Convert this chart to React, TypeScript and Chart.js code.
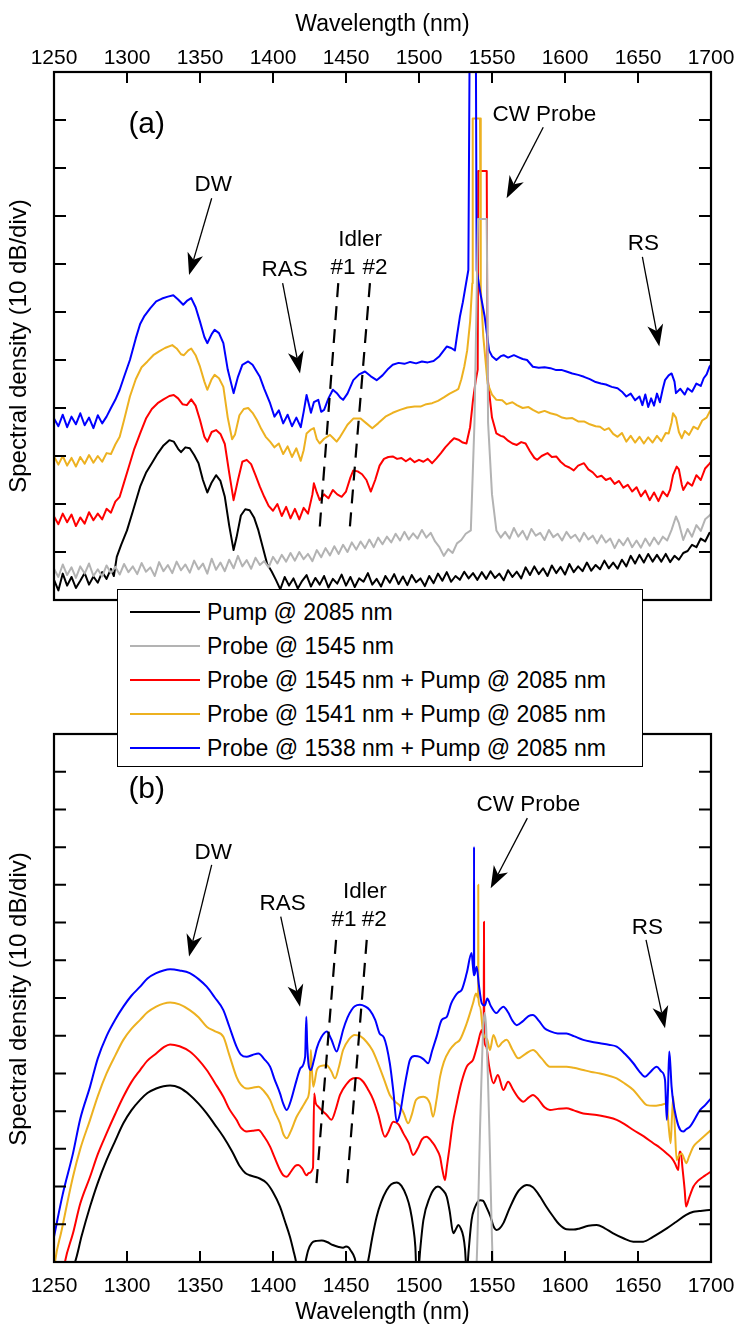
import React, { useEffect, useRef } from "react";
import { Chart, registerables } from "chart.js";

Chart.register(...registerables);

const FONT = "'Liberation Sans', Arial, Helvetica, sans-serif";

// ---------- axes / legend ----------
const X_TICKS = [1250, 1300, 1350, 1400, 1450, 1500, 1550, 1600, 1650, 1700];
const Y_STEP = 10; // 10 dB per division
const A_Y_MAX = 110;
const B_Y_MAX = 140;
const X_TITLE = "Wavelength (nm)";
const Y_TITLE = "Spectral density (10 dB/div)";

const SERIES_LABELS = [
  "Pump @ 2085 nm",
  "Probe @ 1545 nm",
  "Probe @ 1545 nm + Pump @ 2085 nm",
  "Probe @ 1541 nm + Pump @ 2085 nm",
  "Probe @ 1538 nm + Pump @ 2085 nm",
];
const SERIES_COLORS = ["#000000", "#B3B3B3", "#FF0000", "#EDB120", "#0000FF"];
const DRAW_ORDER = [4, 0, 3, 2, 1];

// ---------- panel (a): measured spectra [wavelength nm, level in dB units] ----------
const A_PUMP: [number, number][] = [
  [1250,4.2],[1253,2.0],[1256,5.5],[1259,3.0],[1262,4.8],[1265,2.5],[1268,4.0],[1271,5.6],[1274,3.2],[1277,4.9],
  [1280,3.6],[1283,5.8],[1286,4.4],[1289,6.5],[1291,5.0],[1293,9.0],[1296,11.5],[1300,14.5],[1304,18.5],[1309,23.6],
  [1313,26.5],[1317,28.5],[1321,30.5],[1325,32.2],[1329,33.3],[1332,33.0],[1335,31.5],[1337,30.8],[1340,31.8],[1343,31.6],
  [1346,30.2],[1349,28.5],[1352,25.0],[1355,22.4],[1358,24.5],[1361,26.0],[1364,24.8],[1367,21.5],[1370,15.5],[1373,10.4],
  [1375,13.0],[1378,17.6],[1381,18.9],[1384,18.7],[1387,17.2],[1390,14.5],[1393,11.0],[1396,7.5],[1399,6.0],
  [1402,4.2],[1405,2.2],[1408,4.8],[1411,3.0],[1414,4.5],[1417,2.4],[1420,4.0],[1423,5.2],[1426,2.8],[1429,4.6],
  [1432,3.2],[1435,5.0],[1438,2.6],[1441,4.4],[1444,3.4],[1447,5.3],[1450,3.0],[1453,4.8],[1456,2.7],[1459,4.5],
  [1462,3.8],[1465,5.6],[1468,3.2],[1471,4.4],[1474,2.8],[1477,5.0],[1480,3.6],[1483,5.4],[1486,3.3],[1489,4.9],
  [1492,3.1],[1495,5.2],[1498,3.7],[1501,4.5],[1504,2.9],[1507,5.0],[1510,3.5],[1513,5.5],[1516,4.0],[1519,5.8],
  [1522,3.8],[1525,5.0],[1528,4.2],[1531,5.9],[1534,4.5],[1537,5.6],[1540,4.2],[1543,5.8],[1546,4.4],[1549,6.0],
  [1552,4.6],[1555,5.5],[1558,4.1],[1561,6.2],[1564,4.8],[1567,5.9],[1570,4.5],[1573,6.8],[1576,5.2],[1579,7.0],
  [1582,5.4],[1585,6.6],[1588,5.0],[1591,7.2],[1594,5.6],[1597,6.9],[1600,5.3],[1603,7.5],[1606,5.8],[1609,7.0],
  [1612,6.0],[1615,7.8],[1618,6.1],[1621,7.3],[1624,6.4],[1627,8.2],[1630,6.6],[1633,7.8],[1636,6.5],[1639,8.4],
  [1642,7.0],[1645,9.2],[1648,7.6],[1651,9.4],[1654,7.8],[1657,9.6],[1660,8.0],[1663,9.4],[1666,8.0],[1669,9.6],
  [1672,7.9],[1675,9.2],[1678,8.4],[1681,9.8],[1684,10.2],[1687,11.5],[1690,11.0],[1693,12.8],[1696,12.2],[1699,14.0],
  [1700,13.8],
];

const A_PROBE: [number, number][] = [
  [1250,6.5],[1253,4.8],[1256,7.4],[1259,5.2],[1262,6.8],[1265,4.6],[1268,7.0],[1271,5.5],[1274,7.6],[1277,5.0],
  [1280,6.4],[1283,4.9],[1286,7.2],[1289,5.6],[1292,6.9],[1295,5.3],[1298,7.5],[1301,5.8],[1304,7.0],[1307,5.4],
  [1310,7.7],[1313,5.9],[1316,6.8],[1319,5.0],[1322,7.9],[1325,6.0],[1328,7.3],[1331,5.6],[1334,8.0],[1337,6.2],
  [1340,7.4],[1343,5.7],[1346,8.2],[1349,6.4],[1352,7.6],[1355,5.5],[1358,8.6],[1361,6.3],[1364,7.8],[1367,6.0],
  [1370,8.4],[1373,6.6],[1376,9.2],[1379,7.0],[1382,8.3],[1385,6.5],[1388,8.8],[1391,7.3],[1394,8.1],[1397,6.8],
  [1400,9.0],[1403,7.6],[1406,9.4],[1409,8.0],[1412,9.8],[1415,8.2],[1418,10.0],[1421,8.5],[1424,9.6],[1427,8.1],
  [1430,10.4],[1433,8.9],[1436,10.8],[1439,9.3],[1442,11.2],[1445,9.6],[1448,11.5],[1451,10.0],[1454,12.0],[1457,10.5],
  [1460,12.2],[1463,10.8],[1466,12.6],[1469,11.0],[1472,13.0],[1475,11.6],[1478,13.2],[1481,12.0],[1484,13.8],[1487,12.4],
  [1490,14.2],[1493,12.6],[1496,13.9],[1499,12.8],[1502,14.6],[1505,13.0],[1508,14.0],[1511,12.2],[1514,11.0],[1517,9.2],
  [1520,10.6],[1523,9.8],[1526,11.8],[1529,12.5],[1532,13.8],[1535.5,14.5],[1538,37.0],[1540.4,79.4],[1546.4,79.4],[1547.3,37.0],
  [1550,22.0],[1553,14.5],[1556,13.0],[1559,14.2],[1562,12.8],[1565,15.0],[1568,13.2],[1571,14.4],[1574,12.6],[1577,14.8],
  [1580,13.4],[1583,14.0],[1586,12.5],[1589,14.6],[1592,13.1],[1595,13.8],[1598,12.4],[1601,14.2],[1604,12.9],[1607,13.6],
  [1610,12.2],[1613,14.0],[1616,12.6],[1619,13.4],[1622,11.8],[1625,13.5],[1628,12.0],[1631,12.8],[1634,10.8],[1637,12.6],
  [1640,11.4],[1643,12.9],[1646,11.0],[1649,12.4],[1652,10.9],[1655,12.8],[1658,11.3],[1661,13.0],[1664,11.6],[1667,13.2],
  [1670,12.4],[1673,14.6],[1676,17.4],[1678,16.0],[1681,12.5],[1684,14.8],[1687,13.2],[1690,15.6],[1693,14.4],[1696,16.8],
  [1699,17.6],[1700,18.0],
];

const A_MIX1545: [number, number][] = [
  [1250,17.4],[1253,15.8],[1256,18.0],[1259,16.2],[1262,17.8],[1265,15.4],[1268,17.2],[1271,15.9],[1274,18.3],[1277,16.6],
  [1280,18.0],[1283,16.8],[1286,19.0],[1289,18.2],[1292,20.5],[1295,21.5],[1298,24.5],[1301,27.5],[1305,31.5],[1309,34.7],
  [1313,37.8],[1317,39.8],[1321,41.0],[1325,41.8],[1329,42.5],[1332,42.7],[1335,42.0],[1338,40.8],[1341,40.6],[1344,41.8],
  [1347,40.5],[1350,37.5],[1353,34.0],[1355,33.0],[1358,35.0],[1361,35.4],[1364,34.6],[1367,32.5],[1370,26.5],[1373,20.8],
  [1376,25.0],[1379,28.8],[1382,29.2],[1385,28.3],[1388,26.0],[1391,23.6],[1394,21.5],[1397,19.6],[1400,18.6],[1403,20.0],
  [1406,17.5],[1409,19.4],[1412,17.0],[1415,19.0],[1418,16.8],[1421,19.2],[1424,18.0],[1427,22.0],[1428,24.3],[1430,22.4],
  [1432,20.8],[1435,22.0],[1438,21.2],[1441,22.9],[1444,22.0],[1447,21.5],[1450,22.6],[1453,25.5],[1455,27.0],[1458,26.8],
  [1461,26.2],[1464,25.0],[1467,22.6],[1470,25.0],[1473,28.0],[1476,29.4],[1479,29.8],[1482,29.9],[1485,29.4],[1488,29.6],
  [1491,28.9],[1494,29.5],[1497,28.7],[1500,29.2],[1503,28.8],[1506,29.4],[1509,28.5],[1512,29.5],[1515,30.6],[1518,31.8],
  [1521,32.8],[1524,33.7],[1527,33.4],[1530,32.8],[1532.5,32.6],[1535,36.0],[1537,41.7],[1539,46.0],[1540.2,48.0],[1540.6,89.4],
  [1546.4,89.4],[1546.9,46.5],[1550,38.0],[1553,34.7],[1556,34.2],[1558,34.0],[1561,33.2],[1564,32.6],[1567,32.3],[1570,32.9],
  [1573,32.6],[1576,31.0],[1579,29.6],[1581,29.2],[1584,30.0],[1588,30.6],[1591,29.8],[1594,29.9],[1597,28.8],[1600,28.0],
  [1603,27.6],[1606,27.0],[1609,28.0],[1613,28.5],[1616,27.2],[1619,26.6],[1622,25.6],[1625,25.9],[1628,25.0],[1631,25.4],
  [1634,24.2],[1637,24.8],[1640,23.4],[1643,24.0],[1646,22.6],[1649,23.5],[1652,21.6],[1655,22.8],[1658,20.8],[1661,22.4],
  [1664,20.6],[1667,22.6],[1670,21.6],[1672,23.0],[1674,26.0],[1676.5,27.8],[1678,27.2],[1680,24.0],[1681,22.9],[1684,24.5],
  [1687,23.8],[1690,26.0],[1693,25.0],[1696,27.4],[1699,28.4],[1700,28.8],
];

const A_MIX1541: [number, number][] = [
  [1250,29.9],[1253,28.2],[1256,30.0],[1259,28.0],[1262,29.6],[1265,27.8],[1268,29.8],[1271,28.4],[1274,30.2],[1277,28.6],
  [1280,30.0],[1283,28.8],[1286,30.6],[1289,30.4],[1292,32.4],[1295,34.0],[1298,37.5],[1302,42.4],[1306,46.0],[1310,48.5],
  [1314,49.7],[1318,51.0],[1322,51.8],[1326,52.5],[1331,53.1],[1334,52.4],[1337,51.2],[1339,51.0],[1342,52.0],[1344,52.4],
  [1347,51.0],[1350,48.6],[1353,45.5],[1355,43.8],[1358,46.0],[1360,46.9],[1363,46.2],[1366,44.4],[1369,38.0],[1372,33.5],
  [1374,34.5],[1377,38.5],[1380,39.8],[1383,40.0],[1386,39.0],[1389,37.5],[1392,35.6],[1395,34.0],[1398,33.0],[1401,31.8],
  [1404,32.6],[1407,30.4],[1410,32.0],[1413,29.8],[1416,31.6],[1419,29.0],[1421,31.2],[1423,34.7],[1426,35.5],[1428,35.8],
  [1430,33.5],[1432,32.6],[1435,33.6],[1439,34.4],[1441,33.8],[1443.6,33.0],[1446,34.0],[1448,35.0],[1451,36.5],[1455,37.8],
  [1460,37.8],[1464,36.8],[1468,35.8],[1472,36.8],[1477,38.2],[1482,39.0],[1487,39.6],[1492,40.1],[1497,40.3],[1501,40.3],
  [1505,40.8],[1509,41.0],[1513,41.5],[1517,42.2],[1521,43.0],[1525,43.6],[1527,44.0],[1529,46.0],[1531,48.6],[1533,52.0],
  [1535,58.0],[1536.5,66.0],[1536.8,100.3],[1541.8,100.3],[1542.3,65.0],[1544,55.0],[1547,45.1],[1550,42.8],[1553,41.7],[1557,41.6],
  [1560,40.8],[1564,41.2],[1567,40.6],[1571,40.0],[1575,40.2],[1578,39.6],[1582,39.0],[1586,39.4],[1590,38.9],[1594,38.6],
  [1598,38.0],[1601,37.8],[1605,37.9],[1609,37.2],[1613,37.2],[1617,36.6],[1621,36.2],[1624,36.1],[1627,35.4],[1630,35.8],
  [1633,34.6],[1636,34.0],[1639,34.8],[1642,33.0],[1645,34.2],[1648,32.8],[1651,34.0],[1654,32.6],[1657,33.9],[1660,32.8],
  [1663,34.2],[1666,33.1],[1669,34.8],[1671,34.7],[1673,37.0],[1674,38.9],[1676,38.0],[1678,35.0],[1680,33.7],[1682,35.2],
  [1685,34.4],[1688,36.1],[1691,35.6],[1694,37.4],[1697,38.0],[1699,39.2],[1700,39.6],
];

const A_MIX1538: [number, number][] = [
  [1250,37.8],[1253,36.2],[1256,38.6],[1259,36.0],[1262,38.2],[1265,36.6],[1268,38.9],[1271,36.4],[1274,38.0],[1277,35.8],
  [1280,38.5],[1283,36.8],[1286,38.2],[1289,40.0],[1292,41.7],[1295,43.8],[1298,46.5],[1302,50.0],[1306,54.5],[1309,57.5],
  [1312,59.2],[1316,60.8],[1320,62.2],[1324,62.8],[1328,63.2],[1331.7,63.5],[1335,62.6],[1338.5,61.5],[1341,62.3],[1344,62.9],
  [1347,61.0],[1350,58.0],[1353,54.8],[1355,53.5],[1358,55.4],[1360,56.3],[1363,55.6],[1366,53.5],[1369,48.0],[1373,43.1],
  [1376,46.5],[1379,49.0],[1383,49.7],[1386,49.0],[1389,47.5],[1391,46.5],[1394,44.0],[1398,41.0],[1401,38.2],[1404,39.5],
  [1407,36.8],[1410,38.6],[1413,36.2],[1416,38.0],[1419,36.0],[1421,39.2],[1423,42.7],[1426,39.0],[1428,41.2],[1431,41.7],
  [1433,39.2],[1435,39.6],[1438,42.0],[1441,43.8],[1444,43.0],[1446,42.2],[1448,41.7],[1451,43.0],[1455,45.8],[1459,47.0],
  [1463,47.6],[1467,46.6],[1471,45.8],[1475,46.8],[1479,48.2],[1482,49.0],[1486,49.4],[1490,49.2],[1494,49.6],[1498,49.3],
  [1502,49.7],[1506,49.5],[1510,49.8],[1514,50.8],[1517,52.0],[1519,52.8],[1522,52.5],[1524.6,52.0],[1526,55.0],[1528,59.0],
  [1530,62.0],[1533.8,68.75],[1534.6,111],[1539,111],[1539.5,68.75],[1542,64.0],[1545,59.0],[1548,52.0],[1550,50.8],[1553,50.0],
  [1556,50.8],[1558,51.0],[1561,50.5],[1565,51.0],[1568,50.6],[1571,50.2],[1574,50.0],[1578,48.6],[1582,48.4],[1586,48.5],
  [1590,48.3],[1594,47.9],[1598,47.9],[1601,47.6],[1605,47.2],[1609,46.9],[1613,46.5],[1617,46.0],[1621,45.4],[1624.6,45.1],
  [1628,44.9],[1632,44.4],[1636,44.1],[1639,43.4],[1642,42.4],[1645,43.0],[1648,41.6],[1651,42.4],[1653,40.6],[1655,42.8],
  [1657,40.2],[1659,42.0],[1661,40.5],[1663,43.0],[1665,41.2],[1667,44.0],[1668.5,45.8],[1671,46.8],[1673,47.2],[1675,45.5],
  [1676,43.1],[1679,44.0],[1682,42.8],[1684,44.1],[1687,43.4],[1690,45.1],[1693,44.6],[1695,46.2],[1697,47.0],[1699,48.6],
  [1700,49.0],
];

// ---------- panel (b): simulated spectra ----------
const B_PUMP: [number, number][] = [
  [1250,-10],[1257,-4],[1264.4,0],[1269,7],[1274.7,14.7],[1280,21],[1286,27],[1292,32.2],[1297.5,36.8],[1303,40.2],
  [1309,43],[1314,44.8],[1320,46],[1325,46.6],[1329.5,46.8],[1336,46.2],[1343,44.3],[1349,42],[1354.6,39.4],[1360,36.5],
  [1366,33.2],[1372,29.3],[1377.4,25.3],[1381,23.6],[1384,23],[1390,22.3],[1395.7,20.9],[1400,18.5],[1404.8,14.7],[1408,11],
  [1411.6,6.7],[1414,3],[1415.8,0],[1417,-3],[1419,-4],[1421,-2],[1422.5,0.5],[1424,3],[1426.5,5],[1430,5.6],
  [1433.4,5.7],[1437,5.3],[1441,4.5],[1445,4.0],[1448,3.8],[1450,4.1],[1451.6,3.9],[1453,3.2],[1456,1],[1458,-3],
  [1462,-4],[1465,0],[1468,6.5],[1471,12],[1474,15.8],[1477.8,19],[1481,20.6],[1484.7,21.1],[1488,20.2],[1491.6,17.3],
  [1494,14],[1496,9.4],[1497.5,4],[1498.5,-5],[1499.5,-3],[1501,4],[1503,11.1],[1507.5,17.3],[1510,19.2],[1513,20],
  [1516,19.2],[1519,17.3],[1521,13.5],[1523.5,7.6],[1525,8.5],[1527,9.8],[1528.5,9.0],[1530.4,6.7],[1531.5,3.5],[1532.7,-3],
  [1534,3],[1536,11.1],[1538,14.2],[1541.8,16.4],[1544,16.2],[1546,14.7],[1549,12],[1551,9.5],[1553,8.5],[1555,8.8],
  [1557.8,10.3],[1562,14.2],[1567,18.2],[1570,19.6],[1573.8,20.4],[1578,19.8],[1583,17.3],[1587,14.8],[1592,12],[1596,10.0],
  [1601,8.7],[1606,8.6],[1610,8.9],[1616,9.6],[1621.7,9.8],[1627,9.0],[1633,7.6],[1640,6.3],[1646.8,5.4],[1653.6,5.4],
  [1660,6.6],[1666,8.0],[1669.7,8.9],[1676,10.6],[1683,12.5],[1688,13.3],[1692,13.5],[1699,13.8],[1700,13.8],
];

const B_PROBE: [number, number][] = [
  [1250,-30],[1530,-30],[1539.5,0],[1542,38],[1544,62],[1545,66],[1546,62],[1548,38],[1550.5,0],[1560,-30],[1700,-30],
];

const B_MIX1545: [number, number][] = [
  [1250,-20],[1257.5,0],[1263,7.6],[1268,15.5],[1274.7,22.6],[1280,28.6],[1286,34.1],[1292,39.3],[1297.5,43.8],[1303,47.7],
  [1309,50.9],[1314,53.4],[1320,55.3],[1325,56.9],[1329.5,57.7],[1336,57.2],[1343,55.8],[1349,53.6],[1354.6,50.9],[1360,47.6],
  [1366,43.8],[1370,40.6],[1375,37.7],[1378,35.6],[1382,34.6],[1386,34.8],[1390,35],[1394,33.2],[1398,30.6],[1401,27.8],
  [1404.8,24.4],[1407,23],[1409.4,22.6],[1412,23.8],[1415,25.4],[1417.3,25.7],[1420,24.8],[1423,23],[1424.5,23.6],[1427.4,25],
  [1428.2,44.7],[1429.2,42.2],[1431,41.2],[1434,40.0],[1436.8,39],[1440,37.7],[1443,40.5],[1445.9,44.3],[1450,47],[1455,48.7],
  [1458,48.8],[1461.8,47.8],[1465,45.8],[1468.7,43],[1472,39.2],[1476.7,33.2],[1479,34.5],[1482.4,37.2],[1486,36.5],[1489.3,34.1],
  [1493,31.5],[1496,28.4],[1499,30.0],[1502,32.5],[1505,33.2],[1509.6,31.5],[1512,30.0],[1514.4,27.9],[1516,24.5],[1517.8,21.7],
  [1519,25],[1521,30.6],[1523,36.5],[1525.8,42],[1529,47.5],[1532.7,51.8],[1535,52.8],[1537,53.6],[1540,57.5],[1543,61.5],
  [1544.3,59],[1544.5,90.2],[1544.7,59],[1546,57.1],[1548,52],[1551,47.4],[1554,49.6],[1557.8,45.6],[1561,47.8],[1564.6,45.6],
  [1568,43.6],[1571.5,42.5],[1575,43.6],[1578,44.3],[1582,43.0],[1586,41.0],[1589.7,40.3],[1595,40.6],[1601,40.8],[1606,40.2],
  [1612.5,39.4],[1617,39.2],[1621.7,39],[1628,38.5],[1635.4,37.7],[1641,36.5],[1646.8,35],[1654,33.3],[1660.5,31.5],[1665,30.3],
  [1669.7,28.8],[1673,27.6],[1675.3,26.2],[1677.6,24.4],[1678.4,29.2],[1679.2,29.2],[1680.6,24.4],[1682,19],[1682.9,14.7],[1685,17],
  [1688,20],[1691,21.5],[1694.7,22.6],[1697,23.2],[1700,24],
];

const B_MIX1541: [number, number][] = [
  [1250,-3],[1250.7,0],[1255,8],[1263,22.6],[1268,30],[1274.7,37.7],[1280,44],[1286,50],[1292,54.8],[1297.5,58.9],
  [1303,61.8],[1309,64.2],[1314,66.2],[1320,67.7],[1325,68.5],[1329.5,68.8],[1336,68.3],[1343,66.8],[1349,64.9],[1354.6,62.4],
  [1360,61.2],[1366,59.7],[1370,55.0],[1375,49.1],[1378,47.0],[1382,46],[1386,46.2],[1390,46.5],[1394,45.2],[1398,43],
  [1401,40.0],[1404.8,36.8],[1407,34.0],[1409.4,32.8],[1412,34.5],[1416.2,38.5],[1420,41.0],[1423,43],[1425,46],[1425.9,56.2],
  [1426.8,50],[1427.6,46.5],[1430,50.9],[1433,52.0],[1436.8,52.2],[1440,50.5],[1442.5,48.7],[1445,51.5],[1448,56.2],[1452,59],
  [1456,60.2],[1460,59.8],[1464,58.4],[1468,56.2],[1471,53.6],[1476,48.5],[1480,44.3],[1484,42.4],[1487,41.4],[1489.5,39.5],
  [1492.6,36.8],[1495,39.0],[1498,43],[1503,43.8],[1507.5,42],[1509.6,38.5],[1512,43],[1514.4,49.1],[1517,53],[1521,56.2],
  [1525,58],[1528,58.9],[1532.7,63.3],[1537,68.6],[1539,71.2],[1540.5,70],[1540.6,100],[1540.7,70],[1541.8,67.7],[1544,60.6],
  [1546.8,58.9],[1548.6,56.2],[1551,60.2],[1554.3,57.1],[1557,58.2],[1560,58.9],[1564,56.3],[1568,54],[1573,55.2],[1578,56.2],
  [1584,54],[1589.7,51.8],[1595,51.8],[1601,51.8],[1606,51.5],[1612.5,50.9],[1618,50.4],[1624,50],[1630,49.4],[1635.4,48.7],
  [1641,47.3],[1646.8,45.6],[1652,43.2],[1656,41.6],[1661,41.4],[1665,41.6],[1669.7,42],[1671,36],[1672.4,31.5],[1673.2,38],
  [1674.2,43.8],[1675.3,35],[1676.5,27],[1678,28.2],[1680,28.8],[1681.5,27.5],[1683,26.2],[1685,28.0],[1688,30.6],[1692,32.2],
  [1696,33.6],[1700,35],
];

const B_MIX1538: [number, number][] = [
  [1250,6.7],[1256,18],[1263,28.8],[1268,38],[1274.7,46.5],[1280,54],[1286,59.9],[1292,64.3],[1297.5,67.7],[1303,70.6],
  [1309,73],[1314,75.2],[1320,76.6],[1325,77.3],[1329.5,77.6],[1336,77.3],[1343,76.6],[1349,75],[1354.6,73],[1360,70.2],
  [1366,66.8],[1370,62.5],[1375,57.1],[1378,55.0],[1382,54.4],[1386,54.9],[1390,55.3],[1394,53.8],[1398,51.8],[1401,48.5],
  [1404.8,44.7],[1407,42.0],[1409.4,40.3],[1412,42.5],[1416.2,48.3],[1419,51.5],[1422,54.4],[1422.8,65],[1423.4,58],[1424.5,52],
  [1425.9,50.9],[1428,53.5],[1430,56.7],[1433,59.5],[1436.8,61.1],[1440,59],[1443.6,55.8],[1446,58.5],[1448,61.5],[1451,64.8],
  [1453.8,66.8],[1456,67.8],[1459.5,68.2],[1463,67.8],[1466.3,66.8],[1470,64.2],[1473,60.6],[1476,59.5],[1480,52.7],[1482.5,45.0],
  [1484.7,37.2],[1487,39.4],[1489.3,44.7],[1491.5,49.5],[1493.8,53.6],[1497,54.6],[1500.6,54.4],[1503,53.8],[1506.3,52.7],[1509,56],
  [1512,59.7],[1515.6,64.2],[1519,65],[1522,68.5],[1524.6,70.4],[1527,71.5],[1529.2,72.1],[1532.7,76.6],[1536,81.9],[1537.6,76],
  [1537.7,110.1],[1537.8,76],[1539.5,78.3],[1541,73.5],[1543,68.6],[1545,68.0],[1546.8,69.9],[1549,68.0],[1553,66],[1555.5,67],
  [1557.8,67.7],[1561,66.2],[1564,64.0],[1567,62.8],[1571,63.8],[1575,65.2],[1578,65.5],[1582,64.0],[1586,62.0],[1589.7,61.2],
  [1595,60.6],[1601,60.6],[1606,59.9],[1612.5,58.9],[1618,58.4],[1624,58],[1630,57.6],[1635.4,57.1],[1641,55.2],[1646.8,52.7],
  [1651,50.5],[1654.8,49.1],[1658,50.2],[1662.8,51.8],[1666,50.5],[1668.5,48.3],[1669.7,37.7],[1670.5,45],[1671.4,55.8],[1672.2,52],
  [1673,46.5],[1676.5,37.7],[1679,35.0],[1681,34.6],[1683,35.2],[1685.6,35.9],[1689,38.0],[1692.5,40.3],[1696,41.6],[1700,43.4],
];

// ---------- annotations (data coordinates) ----------
type Txt = { text: string; x: number; y: number; size: number };
const ANN_A = {
  texts: [
    { text: "(a)", x: 1313.5, y: 99, size: 30 },
    { text: "DW", x: 1359, y: 86.5, size: 22.5 },
    { text: "RAS", x: 1408, y: 68.75, size: 22.5 },
    { text: "Idler", x: 1459.6, y: 75, size: 22.5 },
    { text: "#1", x: 1448, y: 69.2, size: 22.5 },
    { text: "#2", x: 1469.9, y: 69.2, size: 22.5 },
    { text: "CW Probe", x: 1585.8, y: 101, size: 22.5 },
    { text: "RS", x: 1653.6, y: 74.3, size: 22.5 },
  ] as Txt[],
  arrows: [
    [1358, 83.7, 1342.5, 67.7],
    [1406.6, 66, 1418.5, 47.2],
    [1585.1, 98.5, 1560, 83.7],
    [1653, 71.5, 1664.6, 52.8],
  ],
  dashes: [
    [1444.7, 66, 1431.7, 13.9],
    [1466.4, 66, 1452.3, 13.9],
  ],
};
const ANN_B = {
  texts: [
    { text: "(b)", x: 1313.5, y: 125.2, size: 30 },
    { text: "DW", x: 1359.1, y: 108.4, size: 22.5 },
    { text: "RAS", x: 1406.6, y: 95.1, size: 22.5 },
    { text: "Idler", x: 1463, y: 98.2, size: 22.5 },
    { text: "#1", x: 1448.6, y: 90.7, size: 22.5 },
    { text: "#2", x: 1469.4, y: 90.7, size: 22.5 },
    { text: "CW Probe", x: 1574.9, y: 121.2, size: 22.5 },
    { text: "RS", x: 1656.4, y: 88.5, size: 22.5 },
  ] as Txt[],
  arrows: [
    [1358, 105.3, 1342.5, 81],
    [1405.3, 91.6, 1418.5, 67.7],
    [1574.2, 117.7, 1549.1, 99.1],
    [1655.5, 85.4, 1668.5, 62],
  ],
  dashes: [
    [1443.2, 85.4, 1429.5, 19.5],
    [1464.2, 85.4, 1450.5, 19.5],
  ],
};

function drawArrow(ctx: CanvasRenderingContext2D, x0: number, y0: number, x1: number, y1: number) {
  const dx = x1 - x0, dy = y1 - y0;
  const len = Math.hypot(dx, dy) || 1;
  const ux = dx / len, uy = dy / len, nx = -uy, ny = ux;
  const L = 22, W = 8;
  const bx = x1 - ux * L, by = y1 - uy * L;
  const mx = x1 - ux * L * 0.72, my = y1 - uy * L * 0.72;
  ctx.lineWidth = 1.3;
  ctx.beginPath();
  ctx.moveTo(x0, y0);
  ctx.lineTo(mx, my);
  ctx.stroke();
  ctx.beginPath();
  ctx.moveTo(x1, y1);
  ctx.lineTo(bx + nx * W, by + ny * W);
  ctx.lineTo(mx, my);
  ctx.lineTo(bx - nx * W, by - ny * W);
  ctx.closePath();
  ctx.fill();
}

const frameNotes = {
  id: "frameNotes",
  afterDatasetsDraw(chart: any, _args: any, opts: any) {
    const ctx: CanvasRenderingContext2D = chart.ctx;
    const ca = chart.chartArea;
    const xs = chart.scales.x;
    const ys = chart.scales.y;
    const X = (v: number) => xs.getPixelForValue(v);
    const Y = (v: number) => ys.getPixelForValue(v);
    ctx.save();
    ctx.fillStyle = "#000";
    ctx.strokeStyle = "#000";
    // idler guide lines
    ctx.lineWidth = 2.2;
    ctx.setLineDash([14, 9]);
    for (const d of opts.ann.dashes) {
      ctx.beginPath();
      ctx.moveTo(X(d[0]), Y(d[1]));
      ctx.lineTo(X(d[2]), Y(d[3]));
      ctx.stroke();
    }
    ctx.setLineDash([]);
    for (const a of opts.ann.arrows) drawArrow(ctx, X(a[0]), Y(a[1]), X(a[2]), Y(a[3]));
    ctx.textAlign = "center";
    ctx.textBaseline = "middle";
    for (const t of opts.ann.texts) {
      ctx.font = `${t.size}px ${FONT}`;
      ctx.fillText(t.text, X(t.x), Y(t.y));
    }
    // frame + inward ticks
    ctx.lineWidth = 2.2;
    ctx.strokeRect(ca.left, ca.top, ca.right - ca.left, ca.bottom - ca.top);
    ctx.lineWidth = 2;
    ctx.beginPath();
    for (const v of X_TICKS) {
      if (v <= xs.min || v >= xs.max) continue;
      const p = X(v);
      ctx.moveTo(p, ca.top);
      ctx.lineTo(p, ca.top + 11);
      ctx.moveTo(p, ca.bottom);
      ctx.lineTo(p, ca.bottom - 11);
    }
    for (let v = ys.min + Y_STEP; v < ys.max - 0.01; v += Y_STEP) {
      const p = Y(v);
      ctx.moveTo(ca.left, p);
      ctx.lineTo(ca.left + 12, p);
      ctx.moveTo(ca.right, p);
      ctx.lineTo(ca.right - 12, p);
    }
    ctx.stroke();
    // y-axis title
    ctx.translate(opts.yTitleX, (ca.top + ca.bottom) / 2 + opts.yTitleShift);
    ctx.rotate(-Math.PI / 2);
    ctx.font = `24px ${FONT}`;
    ctx.fillText(Y_TITLE, 0, 0);
    ctx.restore();
  },
};

function makeDatasets(series: [number, number][][], smooth: boolean) {
  return series.map((pts, i) => ({
    label: SERIES_LABELS[i],
    data: pts.map(([x, y]) => ({ x, y })),
    borderColor: SERIES_COLORS[i],
    backgroundColor: SERIES_COLORS[i],
    borderWidth: 2,
    pointRadius: 0,
    fill: false,
    order: DRAW_ORDER[i],
    tension: 0,
    cubicInterpolationMode: smooth ? "monotone" : "default",
    borderJoinStyle: "round",
  }));
}

function makeConfig(panel: "a" | "b"): any {
  const isA = panel === "a";
  return {
    type: "line",
    data: {
      datasets: makeDatasets(
        isA
          ? [A_PUMP, A_PROBE, A_MIX1545, A_MIX1541, A_MIX1538]
          : [B_PUMP, B_PROBE, B_MIX1545, B_MIX1541, B_MIX1538],
        !isA
      ),
    },
    options: {
      animation: false,
      responsive: false,
      maintainAspectRatio: false,
      events: [],
      layout: {
        padding: isA
          ? { left: 0, right: 36, top: 0, bottom: 40 }
          : { left: 0, right: 36, top: 34, bottom: 0 },
      },
      plugins: {
        legend: { display: false },
        tooltip: { enabled: false },
        frameNotes: {
          ann: isA ? ANN_A : ANN_B,
          yTitleX: 19,
          yTitleShift: isA ? 10 : 1,
        },
      },
      scales: {
        x: {
          type: "linear",
          position: isA ? "top" : "bottom",
          min: X_TICKS[0],
          max: X_TICKS[X_TICKS.length - 1],
          ticks: {
            stepSize: 50,
            font: { size: 21, family: FONT },
            color: "#000",
            padding: isA ? 1 : 12,
            maxRotation: 0,
            minRotation: 0,
            autoSkip: false,
            callback: (v: number) => String(v),
          },
          grid: { display: false, drawTicks: false },
          border: { display: false },
          title: {
            display: true,
            text: X_TITLE,
            font: { size: 23, family: FONT },
            color: "#000",
            padding: isA ? { top: 11, bottom: 0 } : { top: 0, bottom: 3 },
          },
          afterFit: (s: any) => {
            s.height = isA ? 72 : 67;
          },
        },
        y: {
          type: "linear",
          min: 0,
          max: isA ? A_Y_MAX : B_Y_MAX,
          ticks: { display: false, stepSize: Y_STEP },
          grid: { display: false, drawTicks: false },
          border: { display: false },
          afterFit: (s: any) => {
            s.width = 54;
          },
        },
      },
    },
    plugins: [frameNotes],
  };
}

export default function App() {
  const refA = useRef<HTMLCanvasElement | null>(null);
  const refB = useRef<HTMLCanvasElement | null>(null);

  useEffect(() => {
    if (!refA.current || !refB.current) return;
    const ca = new Chart(refA.current, makeConfig("a"));
    const cb = new Chart(refB.current, makeConfig("b"));
    return () => {
      ca.destroy();
      cb.destroy();
    };
  }, []);

  return (
    <div style={{ position: "absolute", left: 0, top: 0, width: 747, height: 1329, background: "#fff", overflow: "hidden" }}>
      <canvas
        ref={refA}
        width={747}
        height={640}
        style={{ position: "absolute", left: 0, top: 0, width: 747, height: 640, display: "block" }}
      />
      <canvas
        ref={refB}
        width={747}
        height={629}
        style={{ position: "absolute", left: 0, top: 700, width: 747, height: 629, display: "block" }}
      />
      <div
        style={{
          position: "absolute",
          left: 117,
          top: 589,
          width: 526,
          height: 178,
          background: "#fff",
          border: "1px solid #000",
          boxSizing: "border-box",
          zIndex: 2,
        }}
      >
        {SERIES_LABELS.map((label, i) => (
          <div
            key={label}
            style={{ position: "absolute", left: 0, top: 5 + i * 34, height: 34, display: "flex", alignItems: "center" }}
          >
            <span
              style={{ display: "inline-block", marginLeft: 12, width: 70, height: 0, borderTop: `2.5px solid ${SERIES_COLORS[i]}` }}
            />
            <span style={{ marginLeft: 7, font: `23px ${FONT}`, color: "#000", whiteSpace: "nowrap", lineHeight: "34px" }}>
              {label}
            </span>
          </div>
        ))}
      </div>
    </div>
  );
}
